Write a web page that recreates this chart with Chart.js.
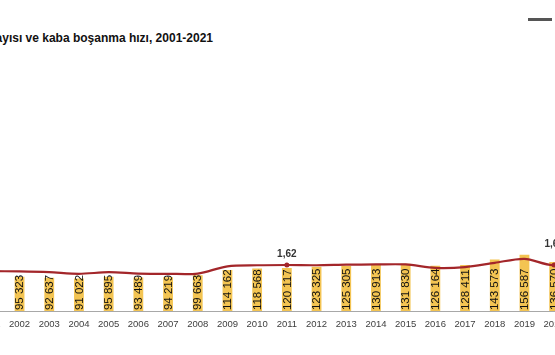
<!DOCTYPE html>
<html>
<head>
<meta charset="utf-8">
<script src="https://cdn.jsdelivr.net/npm/chart.js@4"></script>
<style>
  html, body { margin: 0; padding: 0; background: #ffffff; }
  body { width: 555px; height: 355px; position: relative; overflow: hidden; }
  #title { position: absolute; right: 342px; top: 31px; white-space: nowrap; font: bold 12px/14px "Liberation Sans", Arial, sans-serif; color: #111; }
  #mark { position: absolute; left: 528px; top: 18px; width: 24px; height: 3px; background: #555; }
  #wrap { position: absolute; left: -25px; top: 0; width: 650px; height: 355px; }
</style>
</head>
<body>
<div id="title">Boşanma sayısı ve kaba boşanma hızı, 2001-2021</div>
<div id="mark"></div>
<div id="wrap"><canvas id="c"></canvas></div>
<script>
const years = ['2001','2002','2003','2004','2005','2006','2007','2008','2009','2010','2011','2012','2013','2014','2015','2016','2017','2018','2019','2020','2021'];
const divorces = [91994, 95323, 92637, 91022, 95895, 93489, 94219, 99663, 114162, 118568, 120117, 123325, 125305, 130913, 131830, 126164, 128411, 143573, 156587, 136570, 174085];
const divorceRate = [1.39, 1.38, 1.35, 1.29, 1.35, 1.30, 1.29, 1.30, 1.57, 1.61, 1.62, 1.61, 1.63, 1.64, 1.64, 1.51, 1.54, 1.70, 1.85, 1.62, 2.10];
const labelledRateYears = ['2011', '2020'];

const fmt = v => String(v).replace(/\B(?=(\d{3})+(?!\d))/g, ' ');
const FONT = '"Liberation Sans", Arial, sans-serif';

const labelPlugin = {
  id: 'valueLabels',
  afterDatasetDraw(chart, args) {
    const ctx = chart.ctx;
    const ds = chart.data.datasets[args.index];
    const meta = args.meta;
    ctx.save();
    if (ds.type === 'bar') {
      ctx.font = '11.5px ' + FONT;
      ctx.fillStyle = '#111';
      ctx.textAlign = 'left';
      ctx.textBaseline = 'middle';
      meta.data.forEach((el, i) => {
        ctx.save();
        ctx.translate(el.x, el.base - 1);
        ctx.rotate(-Math.PI / 2);
        ctx.fillText(fmt(ds.data[i]), 0, 0.5);
        ctx.restore();
      });
    } else if (ds.type === 'line') {
      ctx.font = 'bold 10px ' + FONT;
      ctx.fillStyle = '#333';
      ctx.textAlign = 'center';
      ctx.textBaseline = 'middle';
      meta.data.forEach((el, i) => {
        const yr = chart.data.labels[i];
        if (!labelledRateYears.includes(yr)) return;
        const lift = yr === '2020' ? 21 : 11;
        ctx.fillText(ds.data[i].toFixed(2).replace('.', ','), el.x, el.y - lift);
      });
    }
    ctx.restore();
  }
};

new Chart(document.getElementById('c'), {
  data: {
    labels: years,
    datasets: [
      {
        type: 'line',
        data: divorceRate,
        yAxisID: 'y2',
        order: 0,
        borderColor: '#a3262a',
        borderWidth: 2.2,
        tension: 0.3,
        pointRadius: ctx => labelledRateYears.includes(years[ctx.dataIndex]) ? 2.5 : 0,
        pointBackgroundColor: '#a3262a',
        pointBorderWidth: 0
      },
      {
        type: 'bar',
        data: divorces,
        yAxisID: 'y',
        order: 1,
        backgroundColor: '#f3c452',
        barPercentage: 0.33,
        categoryPercentage: 1.0
      }
    ]
  },
  options: {
    responsive: true,
    maintainAspectRatio: false,
    animation: false,
    layout: { padding: { top: 110, bottom: 24.5, left: 0, right: 26.3 } },
    plugins: { legend: { display: false }, tooltip: { enabled: false } },
    scales: {
      x: {
        offset: true,
        grid: { display: false, drawTicks: true, tickLength: 8 },
        border: { display: true, color: '#a8a8a8', width: 1 },
        ticks: { padding: 0, color: '#404040', font: { family: FONT, size: 9.5 }, maxRotation: 0, autoSkip: false }
      },
      y: { display: false, min: 0, max: 560000 },
      y2: { display: false, min: -0.1, max: 7.4 }
    }
  },
  plugins: [labelPlugin]
});
</script>
</body>
</html>
